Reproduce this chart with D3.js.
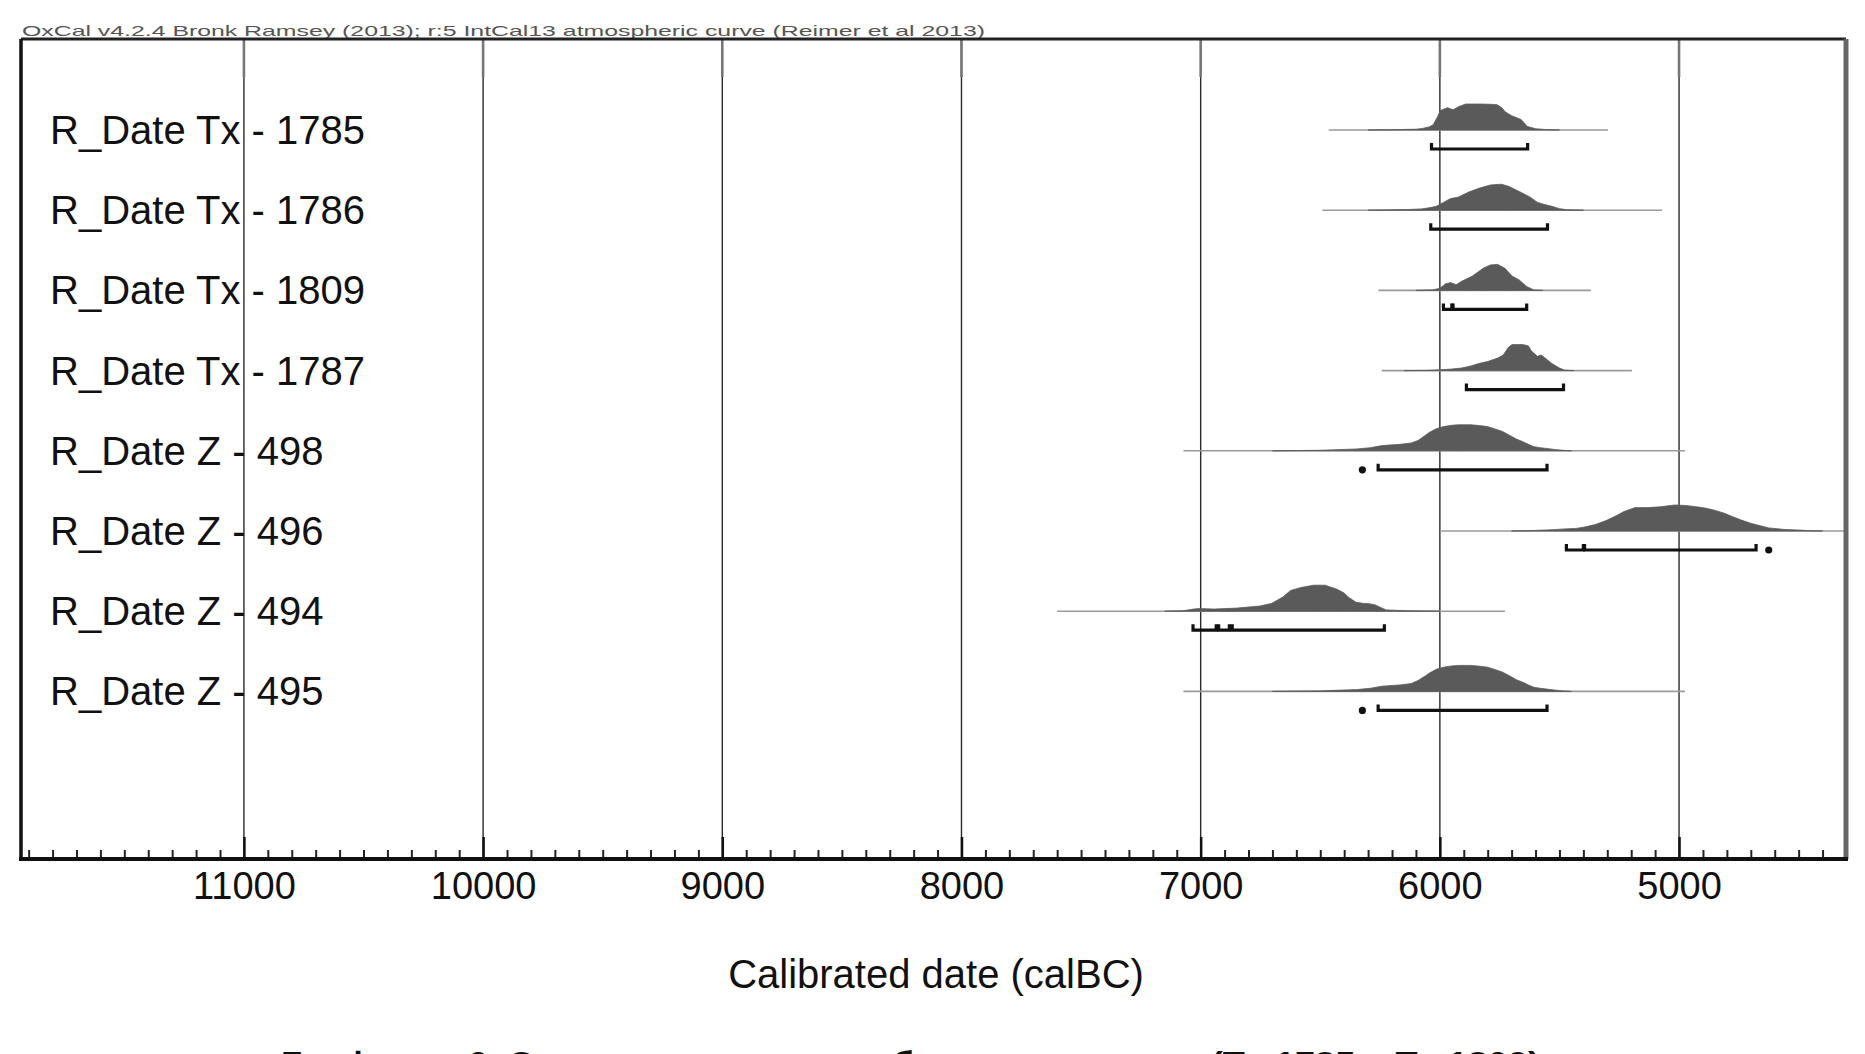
<!DOCTYPE html>
<html><head><meta charset="utf-8">
<script src="https://cdn.jsdelivr.net/npm/d3@7"></script>
<style>
body{margin:0;background:#fff;overflow:hidden;}
svg{display:block;font-family:"Liberation Sans",Arial,sans-serif;}
</style>
</head><body>
<svg id="c" width="1865" height="1054"></svg>
<script>
// ---------- DATA ----------
const titleText = "OxCal v4.2.4 Bronk Ramsey (2013); r:5 IntCal13 atmospheric curve (Reimer et al 2013)";
const axisTitle = "Calibrated date (calBC)";
const captionText = "Графикон 6. Сумарни приказ калибрисаних датума (Tx 1785 – Tx 1809)";

const labels = ["R_Date Tx - 1785","R_Date Tx - 1786","R_Date Tx - 1809","R_Date Tx - 1787",
                "R_Date Z - 498","R_Date Z - 496","R_Date Z - 494","R_Date Z - 495"];

const majorTicks = [11000,10000,9000,8000,7000,6000,5000];

// extent of thin baseline (calBC)
const lineStart = [6465,6491,6257,6243,7072,6000,7600,7072];
const lineEnd   = [5297,5071,5369,5197,4975,4250,5728,4975];

// relative probability distributions [calBC, relative height]
const dist1785 = [[6300,0],[6209,0.01],[6100,0.03],[6073,0.06],[6045,0.12],[6028,0.2],[6010,0.5],[5998,0.75],[5968,0.86],[5945,0.78],[5920,0.9],[5892,1.0],[5832,1.0],[5790,0.99],[5760,0.97],[5740,0.85],[5727,0.7],[5700,0.55],[5681,0.48],[5660,0.4],[5645,0.25],[5636,0.14],[5600,0.05],[5561,0.02],[5500,0]];
const dist1786 = [[6300,0],[6227,0.01],[6120,0.03],[6076,0.05],[6040,0.1],[6015,0.15],[5985,0.3],[5955,0.45],[5924,0.5],[5879,0.7],[5834,0.85],[5789,0.97],[5743,1.0],[5713,0.92],[5668,0.72],[5622,0.5],[5592,0.3],[5562,0.22],[5532,0.15],[5500,0.06],[5471,0.02],[5400,0]];
const dist1809 = [[6100,0],[6030,0.02],[6000,0.08],[5977,0.25],[5955,0.3],[5932,0.22],[5909,0.35],[5864,0.55],[5819,0.85],[5789,0.98],[5758,1.0],[5728,0.85],[5698,0.55],[5668,0.4],[5637,0.15],[5607,0.02],[5570,0]];
const dist1787 = [[6150,0],[6054,0.01],[6000,0.03],[5950,0.06],[5909,0.1],[5870,0.18],[5834,0.28],[5800,0.35],[5758,0.48],[5735,0.6],[5713,0.9],[5698,1.0],[5653,1.0],[5630,0.95],[5617,0.75],[5592,0.55],[5577,0.6],[5562,0.5],[5532,0.27],[5500,0.1],[5479,0.02],[5440,0]];
const dist498 = [[6700,0],[6600,0.01],[6500,0.02],[6438,0.04],[6347,0.07],[6290,0.12],[6242,0.2],[6166,0.25],[6120,0.3],[6091,0.4],[6060,0.6],[6045,0.7],[6015,0.85],[5985,0.93],[5950,0.98],[5924,1.0],[5870,1.0],[5834,0.97],[5800,0.93],[5773,0.85],[5740,0.75],[5713,0.62],[5680,0.45],[5653,0.35],[5630,0.25],[5607,0.16],[5580,0.12],[5562,0.1],[5520,0.05],[5486,0.02],[5450,0]];
const dist496 = [[5700,0],[5607,0.02],[5530,0.05],[5479,0.08],[5430,0.1],[5396,0.15],[5350,0.25],[5305,0.4],[5260,0.6],[5230,0.75],[5184,0.9],[5130,0.9],[5079,0.93],[5018,1.0],[4970,0.98],[4927,0.93],[4890,0.88],[4852,0.8],[4810,0.68],[4776,0.55],[4740,0.42],[4701,0.3],[4660,0.2],[4625,0.12],[4560,0.06],[4505,0.04],[4444,0.01],[4400,0]];
const dist494 = [[7150,0],[7072,0.02],[7030,0.08],[7008,0.1],[6970,0.09],[6944,0.08],[6900,0.1],[6848,0.12],[6800,0.16],[6752,0.2],[6704,0.3],[6680,0.42],[6656,0.55],[6624,0.8],[6576,0.92],[6528,1.0],[6480,1.0],[6432,0.85],[6400,0.7],[6384,0.55],[6352,0.35],[6320,0.3],[6304,0.3],[6272,0.25],[6250,0.15],[6224,0.05],[6150,0.02],[6080,0.01],[6000,0]];
const dist495 = [[6700,0],[6600,0.01],[6500,0.02],[6438,0.04],[6347,0.07],[6290,0.12],[6242,0.2],[6166,0.25],[6120,0.3],[6091,0.42],[6060,0.6],[6045,0.7],[6015,0.85],[5985,0.93],[5950,0.98],[5924,1.0],[5870,1.0],[5834,0.97],[5800,0.93],[5773,0.85],[5740,0.75],[5713,0.62],[5680,0.45],[5653,0.35],[5630,0.25],[5607,0.16],[5580,0.12],[5562,0.1],[5520,0.05],[5486,0.02],[5450,0]];

// 95.4% ranges [from, to] calBC (very short ranges appear as dots)
const ranges1785 = [[6035,5633]];
const ranges1786 = [[6038,5550]];
const ranges1809 = [[5985,5950],[5945,5637]];
const ranges1787 = [[5889,5483]];
const ranges498  = [[6327,6321],[6258,5552]];
const ranges496  = [[5471,5400],[5395,4678],[4628,4622]];
const ranges494  = [[7032,6935],[6925,6880],[6868,6232]];
const ranges495  = [[6327,6321],[6258,5552]];

const dists  = [dist1785,dist1786,dist1809,dist1787,dist498,dist496,dist494,dist495];
const ranges = [ranges1785,ranges1786,ranges1809,ranges1787,ranges498,ranges496,ranges494,ranges495];

// ---------- LAYOUT ----------
const L = 21, R = 1846, T = 39, B = 859;
const svg = d3.select("#c");

const x = d3.scaleLinear().domain([11932, 4302]).range([L, R]);
const yRow = d3.scalePoint().domain(labels).range([130, 691.4]);
const h = d3.scaleLinear().domain([0, 1]).range([0, 26]);

svg.append("defs").append("clipPath").attr("id","plot")
  .append("rect").attr("x",L).attr("y",T).attr("width",R-L).attr("height",B-T);

// title
svg.append("text").attr("x",22).attr("y",36).attr("font-size",15).attr("fill","#555")
  .attr("textLength",963).attr("lengthAdjust","spacingAndGlyphs").text(titleText);

// grid lines
const grid = svg.append("g");
grid.selectAll("line.g").data(majorTicks).join("line")
  .attr("x1",d=>x(d)).attr("x2",d=>x(d)).attr("y1",T).attr("y2",B)
  .attr("stroke","#2a2a2a").attr("stroke-width",1.4);
grid.selectAll("line.t").data(majorTicks).join("line")
  .attr("x1",d=>x(d)).attr("x2",d=>x(d)).attr("y1",T).attr("y2",T+38)
  .attr("stroke","#777").attr("stroke-width",2.6);

// row labels
svg.append("g").selectAll("text").data(labels).join("text")
  .attr("x",50).attr("y",d=>yRow(d)+14).attr("font-size",40).attr("fill","#111")
  .text(d=>d);

// distributions
const plot = svg.append("g").attr("clip-path","url(#plot)");
const rows = plot.selectAll("g.row").data(labels).join("g").attr("class","row")
  .attr("transform",d=>`translate(0,${yRow(d)})`);

rows.append("line")
  .attr("x1",(d,i)=>x(lineStart[i])).attr("x2",(d,i)=>x(lineEnd[i]))
  .attr("y1",0).attr("y2",0).attr("stroke","#9a9a9a").attr("stroke-width",1.6);

const area = d3.area().x(d=>x(d[0])).y0(0).y1(d=>-h(d[1])).curve(d3.curveLinear);
rows.append("path").attr("d",(d,i)=>area(dists[i]))
  .attr("fill","#5a5a5a").attr("stroke","#5a5a5a").attr("stroke-width",0.8);

// ranges
rows.each(function(d,i){
  const g = d3.select(this);
  const yb = 19;
  ranges[i].forEach(r=>{
    const x1 = x(r[0]), x2 = x(r[1]);
    if (x2 - x1 < 4) {
      g.append("circle").attr("cx",(x1+x2)/2).attr("cy",yb).attr("r",3.6).attr("fill","#111");
    } else {
      g.append("path")
        .attr("d",`M${x1},${yb-6}V${yb}H${x2}V${yb-6}`)
        .attr("fill","none").attr("stroke","#111").attr("stroke-width",3.2);
    }
  });
});

// borders
svg.append("line").attr("x1",L).attr("x2",R).attr("y1",T).attr("y2",T).attr("stroke","#222").attr("stroke-width",3);
svg.append("line").attr("x1",L).attr("x2",L).attr("y1",T).attr("y2",B).attr("stroke","#111").attr("stroke-width",3.5);
svg.append("line").attr("x1",R).attr("x2",R).attr("y1",T).attr("y2",B).attr("stroke","#666").attr("stroke-width",5);

// bottom axis
const minorTicks = d3.range(4400, 11901, 100).filter(v => v % 1000 !== 0);
svg.append("g").attr("transform",`translate(0,${B})`)
  .call(d3.axisBottom(x).tickValues(minorTicks).tickSizeInner(-9).tickSizeOuter(0).tickFormat(""))
  .call(g=>g.select(".domain").remove())
  .call(g=>g.selectAll(".tick line").attr("stroke","#222").attr("stroke-width",2));
const ax = svg.append("g").attr("transform",`translate(0,${B})`)
  .call(d3.axisBottom(x).tickValues(majorTicks).tickSizeInner(-22).tickSizeOuter(0).tickPadding(13).tickFormat(d3.format("d")));
ax.select(".domain").remove();
ax.selectAll(".tick line").attr("stroke","#111").attr("stroke-width",2.5);
ax.selectAll(".tick text").attr("font-size",38).attr("fill","#111")
  .attr("font-family","'Liberation Sans',Arial,sans-serif");
svg.append("line").attr("x1",L-2).attr("x2",R+2).attr("y1",B).attr("y2",B).attr("stroke","#111").attr("stroke-width",4);

// axis title
svg.append("text").attr("x",936).attr("y",988).attr("text-anchor","middle")
  .attr("font-size",40).attr("fill","#111").text(axisTitle);

// caption (cut off by page edge, as in the reference)
svg.append("text").attr("x",281).attr("y",1075).attr("font-size",34).attr("font-weight","bold").attr("fill","#111")
  .attr("textLength",1259).attr("lengthAdjust","spacingAndGlyphs").text(captionText);
</script>
</body></html>
